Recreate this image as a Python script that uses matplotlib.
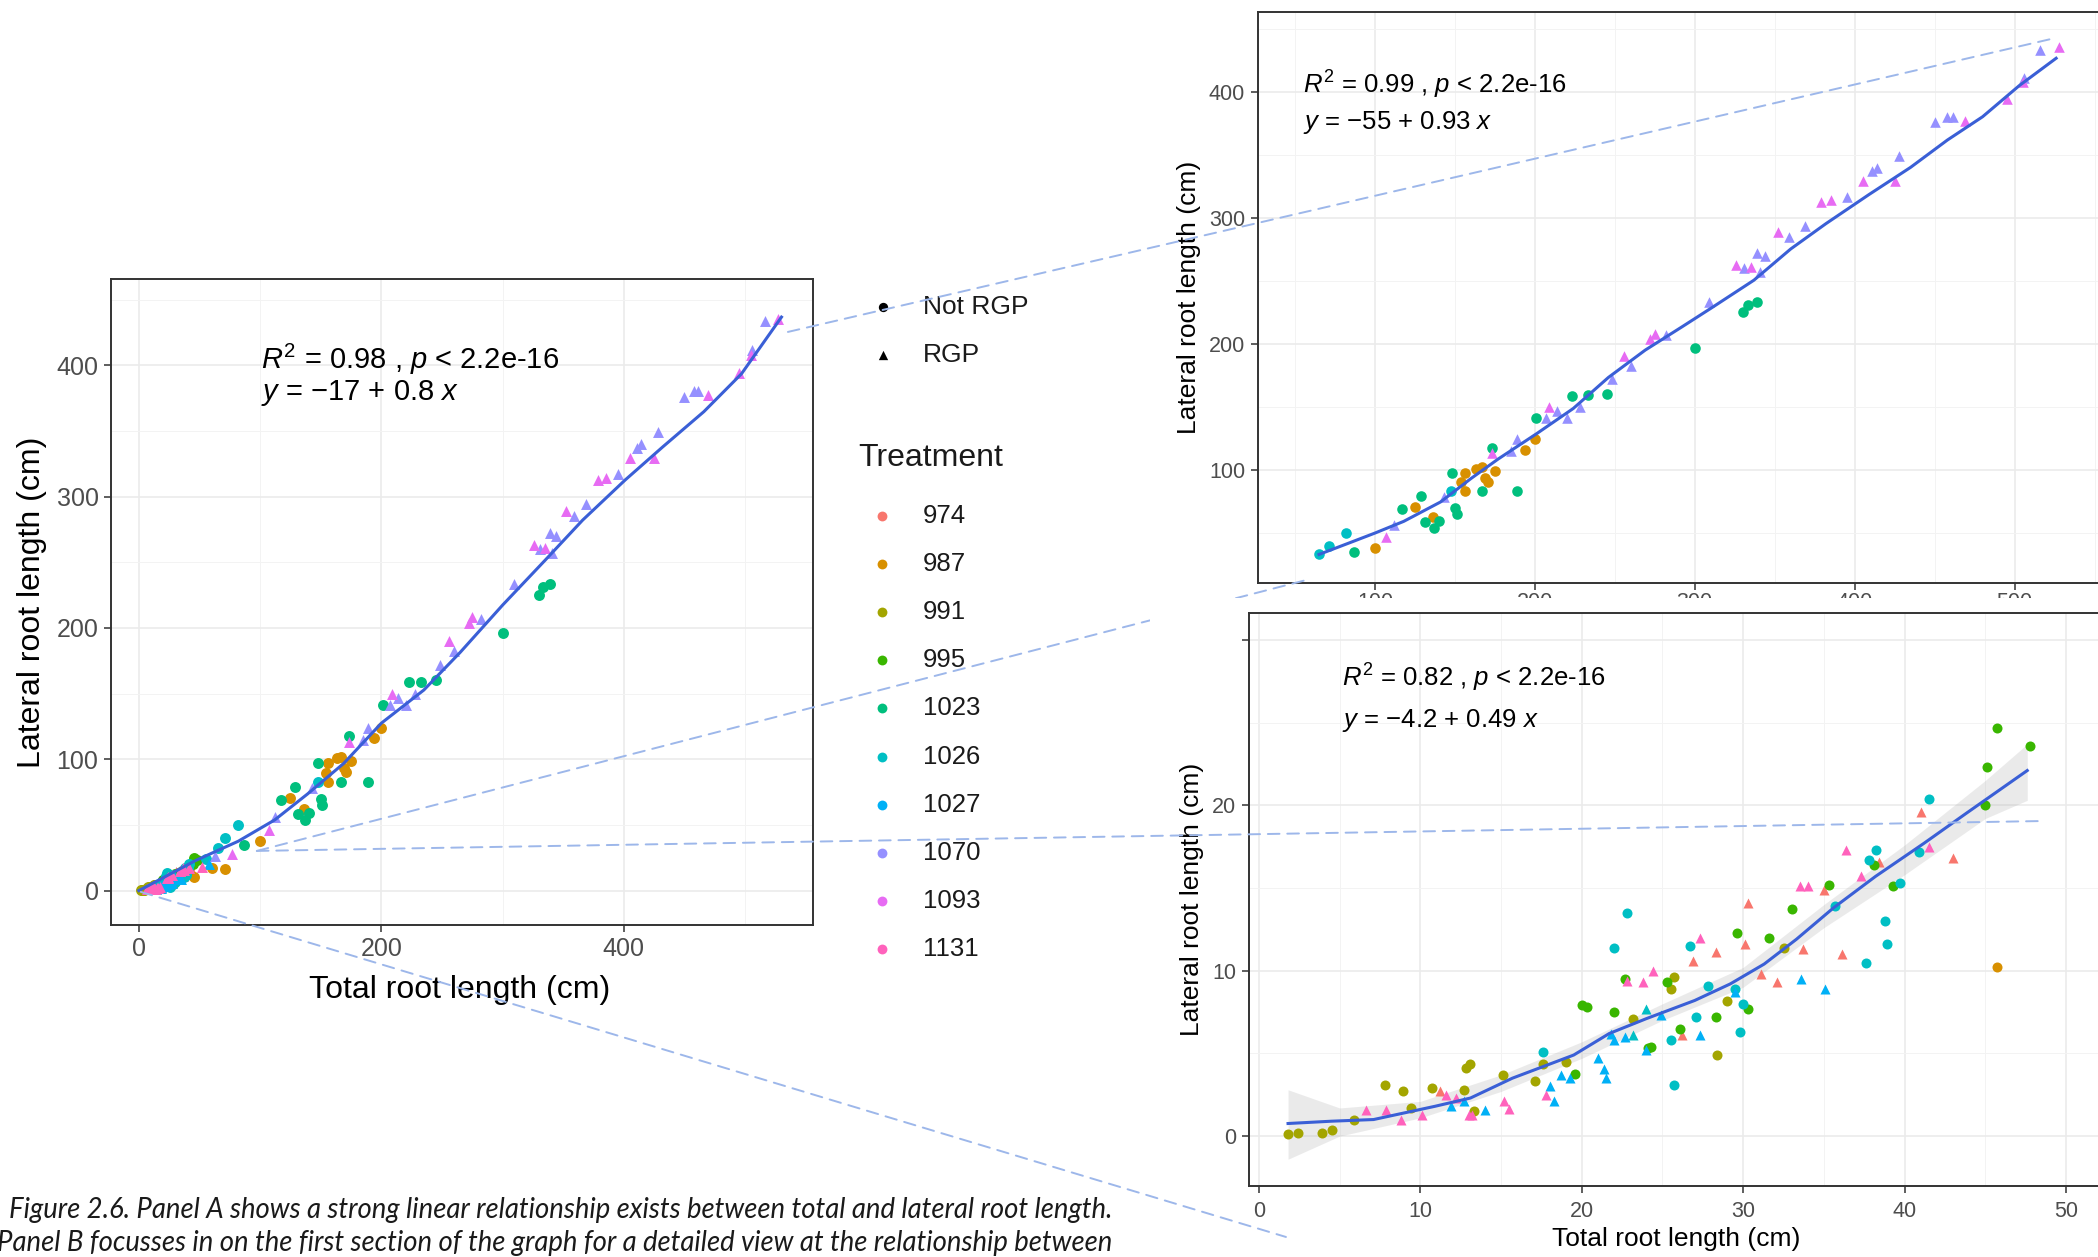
import numpy as np
import matplotlib
matplotlib.use('Agg')
import matplotlib.pyplot as plt
from matplotlib.patches import Rectangle, ConnectionPatch

W, H = 2098, 1257

plt.rcParams['font.family'] = ['Liberation Sans', 'DejaVu Sans']
plt.rcParams['mathtext.fontset'] = 'custom'
plt.rcParams['mathtext.rm'] = 'Liberation Sans'
plt.rcParams['mathtext.it'] = 'Liberation Sans:italic'
plt.rcParams['mathtext.bf'] = 'Liberation Sans:bold'

# treatment levels and ggplot hue colours
treatments = ['974', '987', '991', '995', '1023', '1026', '1027', '1070', '1093', '1131']
trt_colors = ['#F8766D', '#D89000', '#A3A500', '#39B600', '#00BF7D',
              '#00BFC4', '#00B0F6', '#9590FF', '#E76BF3', '#FF62BC']

# ---- points with total root length < 50 cm (panel B, lower) ----
low_x = [1.8, 2.4, 3.9, 4.5, 5.9, 7.8, 8.9, 9.4, 10.7, 12.7, 12.8, 13.1, 13.3, 15.1, 17.1,
         17.6, 17.6, 19.0, 19.6, 20.0, 20.3, 22.0, 22.0, 22.8, 22.7, 23.2, 24.1, 24.3, 25.3,
         25.5, 25.7, 25.5, 25.7, 26.1, 26.7, 27.1, 27.8, 28.3, 28.4, 29.0, 29.6, 29.8, 29.5,
         30.0, 30.3, 31.6, 32.5, 33.0, 35.3, 35.7, 37.6, 37.8, 38.1, 38.2, 38.8, 38.9, 39.3,
         39.7, 40.9, 41.5, 45.1, 45.7, 45.7, 47.8, 45.0,
         6.6, 7.9, 8.8, 10.1, 11.2, 11.6, 11.9, 12.2, 12.7, 13.0, 13.2, 14.0, 15.2, 15.5,
         17.8, 18.0, 18.3, 18.7, 19.3, 21.0, 21.4, 21.5, 21.8, 22.0, 22.7, 22.8, 23.2, 23.8,
         24.0, 24.0, 24.4, 24.9, 26.2, 26.9, 27.3, 27.3, 28.3, 29.5, 30.1, 30.3, 31.1, 32.1,
         33.5, 34.0, 33.6, 33.7, 35.0, 35.1, 36.1, 36.4, 37.3, 38.4, 41.0, 41.5, 43.0]
low_y = [0.13, 0.2, 0.2, 0.38, 0.96, 3.1, 2.7, 1.7, 2.9, 2.8, 4.1, 4.35, 1.5, 3.7, 3.3,
         5.1, 4.35, 4.5, 3.75, 7.95, 7.8, 7.5, 11.4, 13.5, 9.5, 7.1, 5.3, 5.4, 9.3,
         8.9, 9.6, 5.8, 3.1, 6.5, 11.5, 7.2, 9.1, 7.2, 4.9, 8.15, 12.25, 6.3, 8.9,
         8.0, 7.7, 11.95, 11.4, 13.7, 15.2, 13.9, 10.45, 16.7, 16.4, 17.3, 13.0, 11.6, 15.1,
         15.3, 17.2, 20.4, 22.3, 24.7, 10.2, 23.6, 20.0,
         1.57, 1.57, 1.0, 1.3, 2.7, 2.5, 1.8, 2.3, 2.15, 1.27, 1.3, 1.57, 2.1, 1.65,
         2.5, 3.0, 2.1, 3.7, 3.5, 4.7, 4.05, 3.5, 6.2, 5.8, 6.0, 9.4, 6.1, 9.3,
         7.7, 5.2, 10.0, 7.3, 6.1, 10.6, 12.0, 6.1, 11.1, 8.7, 11.6, 14.1, 9.8, 9.3,
         15.1, 15.1, 9.5, 11.3, 14.9, 8.9, 11.0, 17.3, 15.7, 16.6, 19.6, 17.5, 16.8]
low_trt = ['991', '991', '991', '991', '991', '991', '991', '991', '991', '991', '991', '991', '991', '991', '991',
           '1026', '991', '991', '995', '995', '995', '995', '1026', '1026', '995', '991', '995', '995', '995',
           '991', '991', '1026', '1026', '995', '1026', '1026', '1026', '995', '991', '991', '995', '1026', '1026',
           '1026', '995', '995', '991', '995', '995', '1026', '1026', '1026', '995', '1026', '1026', '1026', '995',
           '1026', '1026', '1026', '995', '995', '987', '995', '995',
           '1131', '1131', '1131', '1131', '974', '1131', '1027', '1131', '1027', '1131', '1131', '1027', '1131', '1131',
           '1131', '1027', '1027', '1027', '1027', '1027', '1027', '1027', '1027', '1027', '1027', '1131', '1026', '1131',
           '1026', '1027', '1131', '1027', '974', '974', '1131', '1027', '974', '1027', '974', '974', '974', '974',
           '1131', '1131', '1027', '974', '974', '1027', '974', '1131', '1131', '974', '974', '1131', '974']
low_rgp = [0] * 65 + [1] * 55

# ---- points with total root length > 60 cm (panel A, upper) ----
up_x = [65.3, 71, 82, 87, 100, 117, 125, 129, 131, 136, 137, 140, 148, 147.5, 150, 151, 154,
        156, 156, 163, 167, 167, 169, 171, 173, 175, 189, 194, 200, 201, 223, 233, 245, 300,
        330, 333, 339,
        107, 112, 143, 173, 185, 189, 207, 209, 214, 220, 228, 248, 256, 260, 272, 275, 282,
        309, 326, 331, 335, 339, 341, 344, 352, 359, 369, 379, 385, 395, 405, 411, 414, 425,
        428, 450, 458, 461.5, 469, 495, 505, 506, 516, 527.5]
up_y = [32.6, 39.7, 49.6, 34.7, 37.8, 68.8, 70.3, 79, 58, 62, 53.6, 59, 97.5, 83, 69.7, 65, 89.8,
        97.5, 83, 100.6, 83, 102, 93, 90, 117.6, 99, 83, 116, 124, 141.4, 158.5, 159, 160, 196.5,
        225, 231, 233.6,
        46.5, 55.8, 78, 113, 115, 124, 141, 150, 147, 141, 150, 171.8, 190, 182.6, 203.6, 208, 207,
        233.6, 263, 260, 261, 272, 257, 270, 289, 285, 294, 312.5, 314, 317, 329.5, 337, 339.7, 329.5,
        349, 376, 380.5, 380.5, 377, 394.5, 408, 411.5, 433.7, 435.6]
up_trt = ['1026', '1026', '1026', '1023', '987', '1023', '987', '1023', '1023', '987', '1023', '1023', '1023',
          '1026', '1023', '1023', '987', '987', '987', '987', '1023', '987', '987', '987', '1023', '987',
          '1023', '987', '987', '1023', '1023', '1023', '1023', '1023', '1023', '1023', '1023',
          '1093', '1070', '1070', '1093', '1070', '1070', '1070', '1093', '1070', '1070', '1070', '1070',
          '1093', '1070', '1093', '1093', '1070', '1070', '1093', '1070', '1093', '1070', '1070', '1070',
          '1093', '1070', '1070', '1093', '1093', '1070', '1093', '1070', '1070', '1093', '1070', '1070',
          '1070', '1070', '1093', '1093', '1093', '1070', '1070', '1093']
up_rgp = [0] * 37 + [1] * 44

# ---- a few extra points only visible in panel A (50-80 cm) ----
mid_x = [52, 55, 58, 60, 71, 63, 77]
mid_y = [18, 24, 20, 17, 16.2, 26, 28]
mid_trt = ['1131', '1026', '1027', '987', '987', '1070', '1093']
mid_rgp = [1, 0, 1, 0, 0, 1, 1]

# ---- loess curves ----
smooth_a_x = [0, 47, 82, 112, 139, 169, 200, 235, 265, 300, 335, 366, 401, 432, 466, 497, 530]
smooth_a_y = [0, 23, 37.6, 53.8, 73.5, 96.9, 127.5, 152.7, 181.4, 217.4, 251.5, 282.1, 312.6,
              337.8, 364.7, 393.5, 436.7]
smooth_b_x = [65, 84, 100, 118, 141, 160, 177, 201, 224, 246, 269, 292, 311, 337, 360, 382,
              409, 435, 458, 480, 503, 526]
smooth_b_y = [32.6, 41.8, 49.6, 58.9, 74.3, 92.9, 108.4, 128.5, 148.6, 173.3, 195, 213.5, 229,
              250.6, 275.4, 295.5, 318.7, 340.3, 362, 380.5, 405.3, 427]
smooth_c_x = [1.8, 4.5, 7.1, 10.9, 13.1, 15.7, 19.5, 21.7, 24.0, 27.0, 29.2, 31.3, 33.3, 35.6,
              38.2, 41.2, 43.8, 47.6]
smooth_c_y = [0.76, 0.9, 1.0, 1.8, 2.3, 3.5, 4.9, 6.2, 7.1, 8.2, 9.2, 10.4, 11.9, 13.8, 15.7,
              17.7, 19.5, 22.1]
se_c_x = [1.8, 5, 10, 15, 20, 25, 30, 35, 40, 45, 47.6]
se_c_lo = [-1.4, 0.0, 1.1, 2.7, 4.7, 7.0, 9.0, 12.6, 15.8, 19.2, 20.3]
se_c_hi = [2.8, 1.7, 2.1, 3.7, 5.7, 8.0, 10.2, 14.0, 17.6, 21.5, 23.7]

stats_a = [r'$R^2$ = 0.98 , $p$ < 2.2e-16', r'$y$ = −17 + 0.8 $x$']
stats_b = [r'$R^2$ = 0.99 , $p$ < 2.2e-16', r'$y$ = −55 + 0.93 $x$']
stats_c = [r'$R^2$ = 0.82 , $p$ < 2.2e-16', r'$y$ = −4.2 + 0.49 $x$']

caption = ['Figure 2.6. Panel A shows a strong linear relationship exists between total and lateral root length.',
           'Panel B focusses in on the first section of the graph for a detailed view at the relationship between']

fig = plt.figure(figsize=(W / 100, H / 100), dpi=100)


def px_axes(l, t, r, b, z):
    return fig.add_axes([l / W, 1 - b / H, (r - l) / W, (b - t) / H], zorder=z)


def style_ax(ax, xt, xm, yt, ym, fs):
    ax.set_xticks(xt)
    ax.set_xticks(xm, minor=True)
    ax.set_yticks(yt)
    ax.set_yticks(ym, minor=True)
    ax.grid(which='major', color='#EBEBEB', lw=1.2)
    ax.grid(which='minor', color='#F3F3F3', lw=0.7)
    ax.set_axisbelow(True)
    ax.tick_params(which='minor', length=0)
    ax.tick_params(which='major', color='#333333', length=5, width=1.1,
                   labelsize=fs, labelcolor='#4D4D4D', pad=4)
    for sp in ax.spines.values():
        sp.set_color('#333333')
        sp.set_linewidth(1.4)


def draw_points(ax, x, y, trt, rgp, s):
    x = np.asarray(x); y = np.asarray(y)
    trt = np.asarray(trt); rgp = np.asarray(rgp)
    for t, c in zip(treatments, trt_colors):
        for flag, mk in [(0, 'o'), (1, '^')]:
            m = (trt == t) & (rgp == flag)
            if m.any():
                ax.scatter(x[m], y[m], s=s, c=c, marker=mk, linewidths=0, zorder=3)


# ---------------- panel A ----------------
axA = px_axes(111, 279.4, 813, 924.6, 1)
style_ax(axA, [0, 200, 400], [100, 300, 500], [0, 100, 200, 300, 400],
         [50, 150, 250, 350, 450], 18)
all_x = low_x + mid_x + up_x
all_y = low_y + mid_y + up_y
all_trt = low_trt + mid_trt + up_trt
all_rgp = low_rgp + mid_rgp + up_rgp
draw_points(axA, all_x, all_y, all_trt, all_rgp, 62)
axA.plot(smooth_a_x, smooth_a_y, color='#3A5FD6', lw=2.2, zorder=4)
axA.set_xlim(-23, 556)
axA.set_ylim(-25.9, 465.4)
axA.set_xlabel('Total root length (cm)', fontsize=23, va='center')
axA.set_ylabel('Lateral root length (cm)', fontsize=23, va='center')
axA.xaxis.set_label_coords(0.497, -0.101)
axA.yaxis.set_label_coords(-0.113, 0.5)
axA.text(100.6, 404.3, stats_a[0], fontsize=21, va='center')
axA.text(100.6, 379.2, stats_a[1], fontsize=21, va='center')

# ---------------- zoomed panel (upper) ----------------
axB = px_axes(1257.6, 11.7, 2110.5, 582.5, 1)
style_ax(axB, [100, 200, 300, 400, 500], [50, 150, 250, 350, 450, 550],
         [100, 200, 300, 400], [50, 150, 250, 350, 450], 15.5)
axB.tick_params(axis='x', pad=1.5)
draw_points(axB, up_x, up_y, up_trt, up_rgp, 58)
axB.plot(smooth_b_x, smooth_b_y, color='#3A5FD6', lw=2.2, zorder=4)
axB.set_xlim(26.6, 560)
axB.set_ylim(10.3, 464)
axB.set_ylabel('Lateral root length (cm)', fontsize=19, va='center')
axB.yaxis.set_label_coords(-0.0804, 0.5)
axB.text(55, 405.6, stats_b[0], fontsize=18.5, va='center')
axB.text(55, 376, stats_b[1], fontsize=18.5, va='center')

# white block of the lower inset image, hides the upper tick labels
fig.add_artist(Rectangle((1150 / W, 0), 948 / W, (H - 598) / H, transform=fig.transFigure,
                         facecolor='white', edgecolor='none', zorder=3))

# ---------------- zoomed panel (lower) ----------------
axC = px_axes(1248.5, 613.4, 2114.4, 1185.7, 4)
style_ax(axC, [0, 10, 20, 30, 40, 50], [5, 15, 25, 35, 45],
         [0, 10, 20, 30], [5, 15, 25], 15.5)
axC.set_yticklabels(['0', '10', '20', ''])
axC.tick_params(axis='x', pad=6)
axC.fill_between(se_c_x, se_c_lo, se_c_hi, color='#999999', alpha=0.2, lw=0, zorder=2)
draw_points(axC, low_x, low_y, low_trt, low_rgp, 52)
axC.plot(smooth_c_x, smooth_c_y, color='#3A5FD6', lw=2.2, zorder=4)
axC.set_xlim(-0.65, 53)
axC.set_ylim(-3.0, 31.6)
axC.set_xlabel('Total root length (cm)', fontsize=19, va='center')
axC.set_ylabel('Lateral root length (cm)', fontsize=19, va='center')
axC.xaxis.set_label_coords(0.494, -0.093)
axC.yaxis.set_label_coords(-0.065, 0.5)
axC.text(5.15, 27.7, stats_c[0], fontsize=18.5, va='center')
axC.text(5.15, 25.1, stats_c[1], fontsize=18.5, va='center')

# ---------------- legends (pixel layout) ----------------
axL = fig.add_axes([0, 0, 1, 1], zorder=1.5)
axL.set_xlim(0, W)
axL.set_ylim(H, 0)
axL.axis('off')
for i, (lab, mk) in enumerate([('Not RGP', 'o'), ('RGP', '^')]):
    yy = 306.7 + 48.3 * i
    axL.scatter([883], [yy], s=45, c='black', marker=mk, linewidths=0)
    axL.text(923, yy, lab, fontsize=19, va='center', ha='left', color='#1A1A1A')
axL.text(858, 458, 'Treatment', fontsize=23, va='center', ha='left', color='#1A1A1A')
for i, (lab, c) in enumerate(zip(treatments, trt_colors)):
    yy = 515.6 + 48.2 * i
    axL.scatter([882], [yy], s=50, c=c, marker='o', linewidths=0)
    axL.text(923, yy, lab, fontsize=18.5, va='center', ha='left', color='#1A1A1A')

# ---------------- dashed connectors ----------------
conn_style = dict(color='#9DB7EA', lw=1.4, linestyle=(0, (6, 4)))
links = [
    ((535.3, 425.4), axA, (522.8, 442.3), axB, 5),
    ((97.3, 30.2), axA, (59.3, 13.0), axB, 2),
    ((97.3, 30.2), axA, (48.7, 19.05), axC, 6),
    ((1.6, -1.0), axA, (1.67, -6.1), axC, 6),
]
for pa, a1, pb, a2, z in links:
    cp = ConnectionPatch(xyA=pa, coordsA=a1.transData, xyB=pb, coordsB=a2.transData,
                         zorder=z, **conn_style)
    fig.add_artist(cp)

# ---------------- caption ----------------
fig.text(1112 / W, 1 - 1210 / H, caption[0], ha='right', va='center', fontsize=19.8,
         style='italic', family=['Lato', 'DejaVu Sans'], color='#1A1A1A', zorder=7)
fig.text(1112 / W, 1 - 1243 / H, caption[1], ha='right', va='center', fontsize=19.8,
         style='italic', family=['Lato', 'DejaVu Sans'], color='#1A1A1A', zorder=7)

fig.savefig('out.png', dpi=100, facecolor='white')
